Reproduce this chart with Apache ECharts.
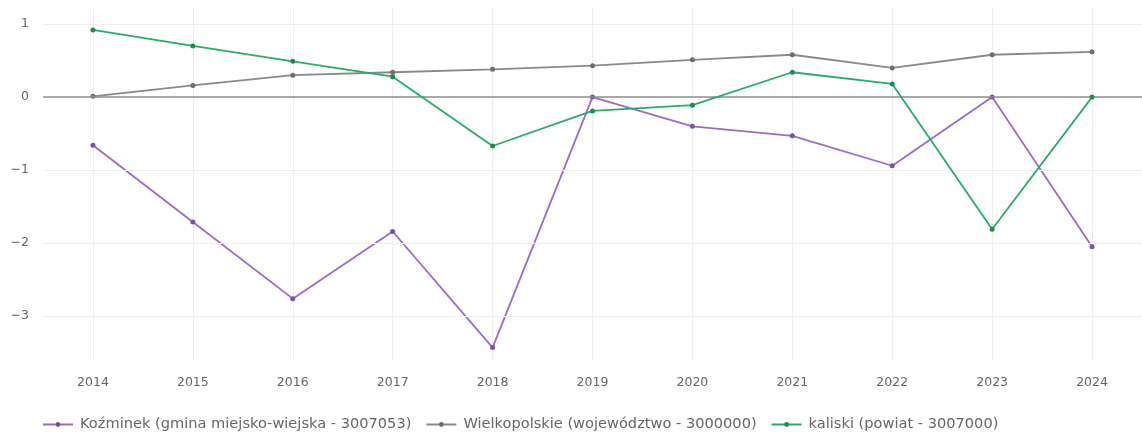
<!DOCTYPE html>
<html>
<head>
<meta charset="utf-8">
<script src="https://cdn.jsdelivr.net/npm/echarts@6/dist/echarts.min.js"></script>
<style>html,body{margin:0;padding:0;background:#fff;}#c{width:1142px;height:432px;}</style>
</head>
<body>
<div id="c"></div>
<script>
const years = ['2014','2015','2016','2017','2018','2019','2020','2021','2022','2023','2024'];
const kozminek = [-0.66, -1.71, -2.76, -1.84, -3.43, 0.0, -0.40, -0.53, -0.94, 0.0, -2.05];
const wielkopolskie = [0.01, 0.16, 0.30, 0.34, 0.38, 0.43, 0.51, 0.58, 0.40, 0.58, 0.62];
const kaliski = [0.92, 0.70, 0.49, 0.28, -0.67, -0.19, -0.11, 0.34, 0.18, -1.81, 0.0];
const yTicks = [1, 0, -1, -2, -3];
const names = ['Koźminek (gmina miejsko-wiejska - 3007053)', 'Wielkopolskie (województwo - 3000000)', 'kaliski (powiat - 3007000)'];
const lineColors = ['#9a6cc2', '#8a8a8a', '#2fa86a'];
const dotColors = ['#7a52a3', '#6e6e6e', '#1f8a52'];

const chart = echarts.init(document.getElementById('c'));
const font = 'DejaVu Sans, Verdana, sans-serif';
function mk(i, data) {
  return {
    name: names[i], type: 'line', data: data,
    symbol: 'circle', symbolSize: 5, showSymbol: true,
    lineStyle: {color: lineColors[i], width: 1.8},
    itemStyle: {color: dotColors[i]},
    emphasis: {disabled: true}, z: 3 + i
  };
}
const gridSeries = {
  type: 'line', data: [], silent: true, z: 1,
  markLine: {
    silent: true, symbol: 'none', label: {show: false},
    data: yTicks.map(v => ({yAxis: v, lineStyle: {color: v === 0 ? '#8c8c8c' : '#eeeeee', width: v === 0 ? 1.5 : 1, type: 'solid'}}))
  }
};
chart.setOption({
  animation: false,
  backgroundColor: '#ffffff',
  grid: {left: 43, right: -2, top: 8, bottom: 72, containLabel: false},
  legend: {
    left: 37, top: 412, itemWidth: 30, itemHeight: 6, itemGap: 14,
    textStyle: {fontFamily: font, fontSize: 14.6, color: '#666', padding: [0, 0, 0, 2]},
    data: names
  },
  xAxis: {
    type: 'category', data: years, boundaryGap: true,
    axisLine: {show: false}, axisTick: {show: false},
    axisLabel: {fontFamily: font, fontSize: 12.5, color: '#666', margin: 16},
    splitLine: {show: true, alignWithLabel: true, lineStyle: {color: '#eeeeee', width: 1}}
  },
  yAxis: {
    type: 'value', min: -3.6, max: 1.22,
    axisLine: {show: false}, axisTick: {show: false},
    splitLine: {show: false},
    axisLabel: {fontFamily: font, fontSize: 12.5, color: '#666', margin: 14,
      formatter: v => (Math.abs(v - Math.round(v)) < 1e-9 ? String(Math.round(v)).replace('-', '\u2212') : '')}
  },
  series: [gridSeries, mk(0, kozminek), mk(1, wielkopolskie), mk(2, kaliski)]
});
</script>
</body>
</html>
